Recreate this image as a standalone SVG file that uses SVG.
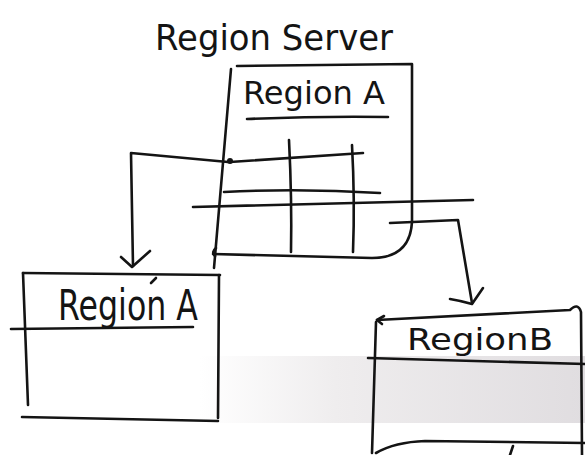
<svg xmlns="http://www.w3.org/2000/svg" width="585" height="455" viewBox="0 0 585 455">
<style>
.s{fill:none;stroke:#141414;stroke-width:2.6;stroke-linecap:round;stroke-linejoin:round}
.t{font-family:"DejaVu Sans","Liberation Sans",sans-serif;fill:#141414}
</style>
<defs>
<linearGradient id="band" x1="0" y1="0" x2="1" y2="0">
<stop offset="0" stop-color="#ffffff"/>
<stop offset="0.35" stop-color="#efedee"/>
<stop offset="1" stop-color="#e0dde0"/>
</linearGradient>
</defs>
<rect width="585" height="455" fill="#ffffff"/>
<rect x="200" y="356" width="385" height="67" fill="url(#band)"/>
<text class="t" x="155" y="50" font-size="36" textLength="238" lengthAdjust="spacingAndGlyphs">Region Server</text>
<g id="region-server">
<path class="s" d="M237 66 L412 64 L412 222 Q410 258 372 258 L213 254"/>
<path class="s" d="M231 69 L214 268"/>
<path class="s" d="M216 248 Q211 252 215 256"/>
<text class="t" x="243" y="104" font-size="32" textLength="142" lengthAdjust="spacingAndGlyphs">Region A</text>
<path class="s" d="M247 119 Q320 116 388 117"/>
<path class="s" d="M289 140 Q292 200 291 252"/>
<path class="s" d="M352 145 Q355 200 353 252"/>
<path class="s" d="M230 162 L363 153"/>
<path class="s" d="M224 192 Q300 188 380 193"/>
<circle cx="230" cy="161" r="3" fill="#141414"/>
</g>
<g id="region-a">
<path class="s" d="M23 273 L220 275"/>
<path class="s" d="M23 273 L28 405"/>
<path class="s" d="M219 275 L218 418"/>
<path class="s" d="M22 417 L218 421"/>
<path class="s" d="M11 329 L193 327"/>
<path class="s" d="M151 283 L156 278"/>
<text class="t" x="58" y="320" font-size="42" textLength="140" lengthAdjust="spacingAndGlyphs">Region A</text>
</g>
<g id="region-b">
<path class="s" d="M377 320 L570 310 Q578 302 581 312 L582 455"/>
<path class="s" d="M384 316 L377 320 L382 324"/>
<path class="s" d="M376 322 L372 453"/>
<path class="s" d="M368 358 L585 364"/>
<path class="s" d="M376 453 Q395 442 425 441 L585 443"/>
<path class="s" d="M510 455 L513 446"/>
<text class="t" x="407" y="350" font-size="30" textLength="146" lengthAdjust="spacingAndGlyphs">RegionB</text>
</g>
<g id="connectors">
<path class="s" d="M228 162 L131 153 L133 266"/>
<path class="s" d="M121 257 L132 267 L150 251"/>
<path class="s" d="M193 207 L473 200"/>
<path class="s" d="M390 223 L458 220 L472 303"/>
<path class="s" d="M450 299 Q462 301 472 304 L483 288"/>
</g>
</svg>
